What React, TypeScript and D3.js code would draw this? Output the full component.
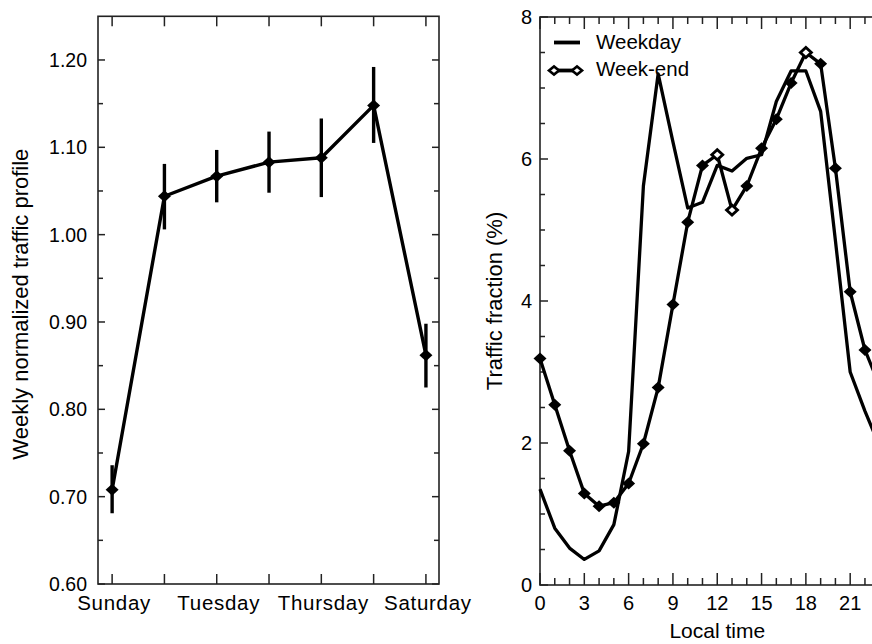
import { line, range, scaleLinear, format } from 'd3';

const days = ['Sunday', 'Monday', 'Tuesday', 'Wednesday', 'Thursday', 'Friday', 'Saturday'];
const dayLabels = ['Sunday', 'Tuesday', 'Thursday', 'Saturday'];
const weeklyProfile = [0.708, 1.044, 1.067, 1.083, 1.088, 1.148, 0.862];
const weeklyLow = [0.681, 1.006, 1.037, 1.048, 1.043, 1.105, 0.825];
const weeklyHigh = [0.736, 1.081, 1.097, 1.118, 1.133, 1.192, 0.898];
const profileTicks = [0.6, 0.7, 0.8, 0.9, 1.0, 1.1, 1.2];

const hours = range(0, 24);
const weekday = [
  1.35, 0.8, 0.52, 0.36, 0.48, 0.85, 1.88, 5.62, 7.2, 6.24, 5.31, 5.39,
  5.91, 5.83, 6.01, 6.06, 6.81, 7.24, 7.24, 6.67, 4.85, 3.0, 2.45, 1.95,
];
const weekend = [
  3.19, 2.54, 1.89, 1.29, 1.11, 1.16, 1.43, 1.99, 2.78, 3.95, 5.11, 5.91,
  6.06, 5.28, 5.62, 6.15, 6.56, 7.07, 7.5, 7.34, 5.87, 4.13, 3.31, 2.8,
];
const weekendOpenHours = [12, 13, 18];
const hourTicks = [0, 3, 6, 9, 12, 15, 18, 21];
const fractionTicks = [0, 2, 4, 6, 8];

const font = '"Liberation Sans", Arial, Helvetica, sans-serif';
const ink = '#000';

const diamond = (cx: number, cy: number, w = 6.5, h = 6) =>
  `M${cx - w},${cy}L${cx},${cy - h}L${cx + w},${cy}L${cx},${cy + h}Z`;

// left panel
const xDay = scaleLinear().domain([-0.27, 6.25]).range([98, 439]);
const yProf = scaleLinear().domain([0.6, 1.25]).range([584, 16.3]);

// right panel (frame runs past the right edge of the picture)
const xHour = scaleLinear().domain([0, 24]).range([540, 894.5]);
const yFrac = scaleLinear().domain([0, 8]).range([585, 17]);

const App = () => {
  const profLine = line<number>()
    .x((d, i) => xDay(i))
    .y((d) => yProf(d));
  const hourLine = line<number>()
    .x((d, i) => xHour(hours[i]))
    .y((d) => yFrac(d));

  const fmt = format('.2f');
  const [pl, pr] = xDay.range();
  const [pb, pt] = yProf.range();
  const [hl, hr] = xHour.range();
  const [hb, ht] = yFrac.range();

  return (
    <svg
      width={872}
      height={644}
      style={{ position: 'absolute', left: 0, top: 0, background: '#fff' }}
      fontFamily={font}
    >
      <rect width={872} height={644} fill="#fff" />

      {/* ---------- left panel ---------- */}
      <g>
        {/* y ticks */}
        {range(0.6, 1.2001, 0.05).map((v, i) => {
          const len = i % 2 === 0 ? 7 : 5;
          const y = yProf(v);
          return (
            <g key={'yt' + i} stroke="#222" strokeWidth={1.5}>
              <line x1={pl} x2={pl + len} y1={y} y2={y} />
              <line x1={pr} x2={pr - len} y1={y} y2={y} />
            </g>
          );
        })}
        {profileTicks.map((v) => (
          <text
            key={'yl' + v}
            x={87}
            y={yProf(v)}
            dy="0.36em"
            textAnchor="end"
            fontSize={19.5}
            fill={ink}
          >
            {fmt(v)}
          </text>
        ))}
        {/* x ticks */}
        {days.map((d, i) => (
          <g key={'xt' + d} stroke="#222" strokeWidth={1.5}>
            <line x1={xDay(i)} x2={xDay(i)} y1={pb} y2={pb - 10} />
            <line x1={xDay(i)} x2={xDay(i)} y1={pt} y2={pt + 10} />
          </g>
        ))}
        {dayLabels.map((d) => (
          <text
            key={'xl' + d}
            x={xDay(days.indexOf(d)) + 2}
            y={610}
            textAnchor="middle"
            fontSize={20.5}
            letterSpacing={0.7}
            fill={ink}
          >
            {d}
          </text>
        ))}
        <rect
          x={pl}
          y={pt}
          width={pr - pl}
          height={pb - pt}
          fill="none"
          stroke="#222"
          strokeWidth={1.6}
        />
        {/* error bars */}
        {days.map((d, i) => (
          <line
            key={'eb' + d}
            x1={xDay(i)}
            x2={xDay(i)}
            y1={yProf(weeklyLow[i])}
            y2={yProf(weeklyHigh[i])}
            stroke={ink}
            strokeWidth={3.4}
          />
        ))}
        <path
          d={profLine(weeklyProfile) ?? ''}
          fill="none"
          stroke={ink}
          strokeWidth={3.4}
          strokeLinejoin="round"
        />
        {weeklyProfile.map((v, i) => (
          <path key={'pm' + i} d={diamond(xDay(i), yProf(v))} fill={ink} />
        ))}
        <text
          transform={`translate(28,${(pt + pb) / 2 + 4}) rotate(-90)`}
          textAnchor="middle"
          fontSize={22}
          fill={ink}
        >
          Weekly normalized traffic profile
        </text>
      </g>

      {/* ---------- right panel ---------- */}
      <g>
        {range(0, 8.01, 0.5).map((v, i) => {
          const len = i % 4 === 0 ? 8 : 5;
          const y = yFrac(v);
          return (
            <line
              key={'fy' + i}
              x1={hl}
              x2={hl + len}
              y1={y}
              y2={y}
              stroke="#222"
              strokeWidth={1.5}
            />
          );
        })}
        {fractionTicks.map((v) => (
          <text
            key={'fl' + v}
            x={532}
            y={yFrac(v)}
            dy="0.36em"
            textAnchor="end"
            fontSize={20}
            fill={ink}
          >
            {v}
          </text>
        ))}
        {range(0, 25).map((h) => {
          const len = h % 3 === 0 ? 12 : 7;
          const x = xHour(h);
          return (
            <g key={'hx' + h} stroke="#222" strokeWidth={1.5}>
              <line x1={x} x2={x} y1={hb} y2={hb - len} />
              <line x1={x} x2={x} y1={ht} y2={ht + len} />
            </g>
          );
        })}
        {hourTicks.map((h) => (
          <text
            key={'hl' + h}
            x={xHour(h)}
            y={610}
            textAnchor="middle"
            fontSize={20}
            fill={ink}
          >
            {h}
          </text>
        ))}
        <rect
          x={hl}
          y={ht}
          width={hr - hl}
          height={hb - ht}
          fill="none"
          stroke="#222"
          strokeWidth={1.6}
        />
        <path
          d={hourLine(weekday) ?? ''}
          fill="none"
          stroke={ink}
          strokeWidth={3.3}
          strokeLinejoin="round"
        />
        <path
          d={hourLine(weekend) ?? ''}
          fill="none"
          stroke={ink}
          strokeWidth={3.3}
          strokeLinejoin="round"
        />
        {weekend.map((v, i) => {
          const open = weekendOpenHours.includes(hours[i]);
          return (
            <path
              key={'wm' + i}
              d={diamond(xHour(hours[i]), yFrac(v), open ? 5.5 : 6.5, open ? 5 : 6)}
              fill={open ? '#fff' : ink}
              stroke={ink}
              strokeWidth={open ? 2.8 : 0}
            />
          );
        })}

        {/* legend */}
        <line x1={554} x2={580} y1={42.5} y2={42.5} stroke={ink} strokeWidth={3.8} />
        <text x={596} y={49} fontSize={20.5} fill={ink}>
          Weekday
        </text>
        <line x1={553} x2={577} y1={70.5} y2={70.5} stroke={ink} strokeWidth={3.8} />
        <path d={diamond(554, 70.5, 5, 4)} fill="#fff" stroke={ink} strokeWidth={2.6} />
        <path d={diamond(577, 70.5, 5, 4)} fill="#fff" stroke={ink} strokeWidth={2.6} />
        <text x={596} y={76} fontSize={20.5} fill={ink}>
          Week-end
        </text>

        <text x={xHour(12)} y={638} textAnchor="middle" fontSize={21} fill={ink}>
          Local time
        </text>
        <text
          transform={`translate(502,${(ht + hb) / 2}) rotate(-90)`}
          textAnchor="middle"
          fontSize={22}
          fill={ink}
        >
          Traffic fraction (%)
        </text>
      </g>
    </svg>
  );
};

export default App;
